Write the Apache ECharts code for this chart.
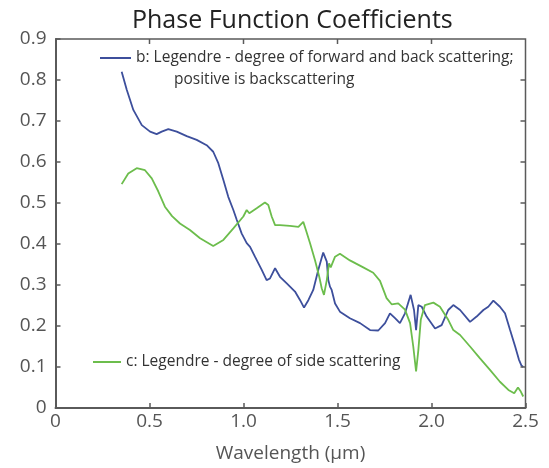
<!DOCTYPE html>
<html>
<head>
<meta charset="utf-8">
<script src="https://cdn.jsdelivr.net/npm/echarts@6.0.0/dist/echarts.min.js"></script>
<style>
  html, body { margin: 0; padding: 0; background: #fff; }
  #main { width: 549px; height: 468px; }
</style>
</head>
<body>
<div id="main"></div>
<script>
// wavelength (um) and coefficient
var bX = [0.352, 0.379, 0.414, 0.459, 0.503, 0.538, 0.565, 0.600, 0.645, 0.698, 0.751, 0.804, 0.839, 0.866, 0.893, 0.919,
  0.946, 0.964, 0.990, 1.017, 1.035, 1.061, 1.097, 1.123, 1.141, 1.168, 1.194, 1.230, 1.274, 1.301, 1.322, 1.345,
  1.371, 1.398, 1.424, 1.443, 1.451, 1.460, 1.469, 1.487, 1.513, 1.566, 1.620, 1.673, 1.717, 1.753, 1.779, 1.806,
  1.832, 1.859, 1.889, 1.907, 1.918, 1.930, 1.948, 1.974, 2.019, 2.054, 2.089, 2.116, 2.152, 2.205, 2.240, 2.276,
  2.302, 2.329, 2.364, 2.391, 2.418, 2.445, 2.465, 2.478, 2.488];
var bY = [0.820, 0.776, 0.727, 0.690, 0.674, 0.668, 0.674, 0.680, 0.674, 0.663, 0.654, 0.641, 0.625, 0.597, 0.556, 0.515,
  0.483, 0.459, 0.426, 0.402, 0.393, 0.369, 0.337, 0.312, 0.316, 0.341, 0.320, 0.304, 0.284, 0.263, 0.245, 0.263,
  0.288, 0.337, 0.379, 0.357, 0.312, 0.296, 0.288, 0.255, 0.235, 0.219, 0.207, 0.190, 0.189, 0.207, 0.231, 0.219,
  0.207, 0.231, 0.276, 0.239, 0.190, 0.251, 0.247, 0.223, 0.194, 0.202, 0.239, 0.251, 0.239, 0.210, 0.223, 0.239,
  0.247, 0.262, 0.247, 0.231, 0.190, 0.150, 0.118, 0.104, 0.100];

var cX = [0.352, 0.387, 0.432, 0.476, 0.512, 0.547, 0.582, 0.620, 0.662, 0.715, 0.769, 0.839, 0.893, 0.946, 0.999, 1.017,
  1.031, 1.070, 1.114, 1.132, 1.150, 1.168, 1.194, 1.247, 1.292, 1.318, 1.332, 1.354, 1.380, 1.403, 1.416, 1.428,
  1.443, 1.455, 1.464, 1.487, 1.513, 1.566, 1.637, 1.690, 1.726, 1.761, 1.788, 1.823, 1.859, 1.886, 1.903, 1.918,
  1.930, 1.943, 1.965, 2.010, 2.045, 2.089, 2.116, 2.152, 2.205, 2.258, 2.311, 2.364, 2.409, 2.440, 2.460, 2.475, 2.488];
var cY = [0.546, 0.572, 0.585, 0.580, 0.560, 0.528, 0.491, 0.468, 0.450, 0.434, 0.414, 0.395, 0.410, 0.438, 0.467, 0.483,
  0.475, 0.487, 0.501, 0.495, 0.467, 0.446, 0.446, 0.444, 0.442, 0.454, 0.434, 0.402, 0.361, 0.320, 0.292, 0.276,
  0.312, 0.353, 0.343, 0.369, 0.376, 0.360, 0.343, 0.330, 0.310, 0.268, 0.253, 0.255, 0.240, 0.207, 0.150, 0.089,
  0.141, 0.215, 0.251, 0.257, 0.247, 0.215, 0.190, 0.178, 0.150, 0.121, 0.093, 0.064, 0.044, 0.036, 0.050, 0.040, 0.028];

var bName = 'b: Legendre - degree of forward and back scattering;';
var cName = 'c: Legendre - degree of side scattering';

// axis ranges
var xMin = 0, xMax = 2.5, xStep = 0.5;
var yMin = 0, yMax = 0.9, yStep = 0.1;

function pairs(xs, ys) {
  return xs.map(function (x, i) { return [x, ys[i]]; });
}
function tickFmt(v) {
  return v === 0 ? '0' : v.toFixed(1);
}

var font = 'Open Sans';
var axisColor = '#5a5a5a';

var noteText = {
  id: 'note',
  type: 'text',
  left: 174,
  top: 72,
  style: { text: 'positive is backscattering', fontFamily: font, fontSize: 15.5, fill: '#333' }
};

var myChart = echarts.init(document.getElementById('main'));
myChart.setOption({
  animation: false,
  textStyle: { fontFamily: font },
  title: {
    text: 'Phase Function Coefficients',
    left: 127,
    top: 3,
    textStyle: { fontFamily: font, fontSize: 25, fontWeight: 'normal', color: '#222' }
  },
  legend: [
    {
      data: [bName],
      icon: 'rect',
      left: 100,
      top: 50,
      padding: 0,
      itemWidth: 31,
      itemHeight: 2,
      textStyle: { fontFamily: font, fontSize: 15.5, color: '#333' }
    },
    {
      data: [cName],
      icon: 'rect',
      left: 93,
      top: 354,
      padding: 0,
      itemWidth: 28,
      itemHeight: 2,
      textStyle: { fontFamily: font, fontSize: 15.5, color: '#333' }
    }
  ],
  graphic: [noteText],
  grid: { left: 55.5, right: 23.5, top: 39, bottom: 60 },
  xAxis: {
    type: 'value', min: xMin, max: xMax, interval: xStep, position: 'bottom',
    name: 'Wavelength (\u00b5m)', nameLocation: 'middle', nameGap: 36,
    nameTextStyle: { fontFamily: font, fontSize: 19, color: '#555' },
    axisLine: { onZero: false, lineStyle: { color: axisColor, width: 2 } },
    axisTick: { inside: true, length: 5, lineStyle: { color: axisColor, width: 1.5 } },
    axisLabel: { formatter: tickFmt, fontSize: 19, color: '#555', margin: 4 },
    splitLine: { show: false }
  },
  yAxis: {
    type: 'value', min: yMin, max: yMax, interval: yStep, position: 'left',
    axisLine: { show: true, onZero: false, lineStyle: { color: axisColor, width: 2 } },
    axisTick: { show: true, inside: true, length: 5, lineStyle: { color: axisColor, width: 1.5 } },
    axisLabel: { formatter: tickFmt, fontSize: 19, color: '#555', margin: 9 },
    splitLine: { show: false }
  },
  series: [
    {
      name: bName,
      type: 'line',
      symbol: 'none',
      color: '#3d4f9c',
      lineStyle: { width: 1.8 },
      data: pairs(bX, bY)
    },
    {
      name: cName,
      type: 'line',
      symbol: 'none',
      color: '#6cbd4c',
      lineStyle: { width: 1.8 },
      data: pairs(cX, cY)
    }
  ]
});

// top and right sides of the box, with inward ticks, placed through the grid's own scale
var lo = myChart.convertToPixel({ gridIndex: 0 }, [xMin, yMin]);
var hi = myChart.convertToPixel({ gridIndex: 0 }, [xMax, yMax]);
var frameStyle = { stroke: axisColor, lineWidth: 1.5, fill: null };
var frame = [{
  id: 'frame',
  type: 'polyline',
  z: 10,
  silent: true,
  shape: { points: [[lo[0], hi[1]], [hi[0], hi[1]], [hi[0], lo[1]]] },
  style: frameStyle
}];
var i, p;
for (i = 1; i * xStep < xMax - 1e-9; i++) {
  p = myChart.convertToPixel({ gridIndex: 0 }, [i * xStep, yMax]);
  frame.push({
    id: 'xt' + i, type: 'line', z: 10, silent: true,
    shape: { x1: p[0], y1: hi[1], x2: p[0], y2: hi[1] + 5 },
    style: frameStyle
  });
}
for (i = 1; i * yStep < yMax - 1e-9; i++) {
  p = myChart.convertToPixel({ gridIndex: 0 }, [xMax, i * yStep]);
  frame.push({
    id: 'yt' + i, type: 'line', z: 10, silent: true,
    shape: { x1: hi[0], y1: p[1], x2: hi[0] - 5, y2: p[1] },
    style: frameStyle
  });
}
myChart.setOption({ graphic: [noteText].concat(frame) });
</script>
</body>
</html>
